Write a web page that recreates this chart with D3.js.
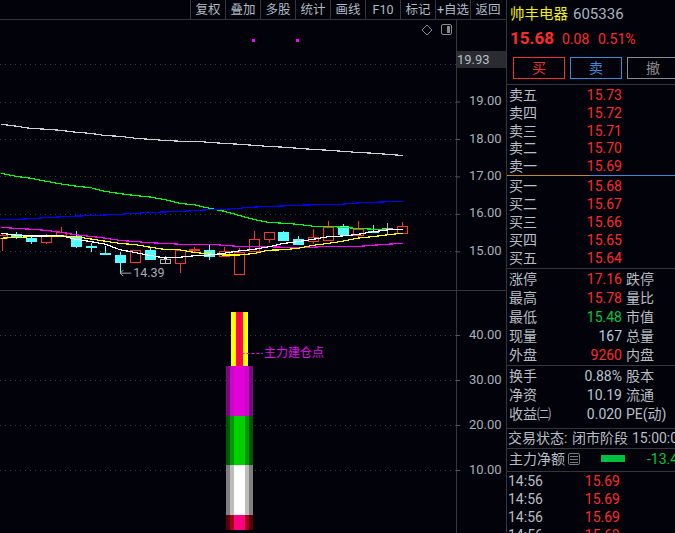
<!DOCTYPE html>
<html>
<head>
<meta charset="utf-8">
<script src="https://cdn.jsdelivr.net/npm/d3@7"></script>
<style>
html, body { margin: 0; padding: 0; background: #02020a; overflow: hidden; }
svg { display: block; }
text { font-family: Roboto, "Noto Sans CJK SC", sans-serif; }
</style>
</head>
<body>
<script>
// candle values, oldest first
var opens = [15.37,15.45,15.36,15.26,15.44,15.41,15.14,14.95,14.90,14.71,15.03,14.79,14.68,15.03,15.03,14.86,14.40,14.99,15.31,15.51,15.32,15.26,15.31,15.67,15.44,15.55,15.62,15.50];
var closes = [15.44,15.36,15.28,15.41,15.51,15.15,15.10,14.91,14.72,15.03,14.78,14.68,15.04,15.05,14.86,15.00,14.99,15.32,15.51,15.30,15.19,15.37,15.66,15.46,15.60,15.52,15.59,15.68];
var highs = [15.49,15.52,15.44,15.46,15.64,15.54,15.23,15.14,14.99,15.03,15.11,14.87,15.04,15.12,15.17,15.11,15.09,15.54,15.51,15.54,15.41,15.60,15.80,15.73,15.81,15.70,15.76,15.78];
var lows = [15.01,15.33,15.19,15.19,15.41,15.10,14.99,14.91,14.39,14.71,14.78,14.65,14.43,14.95,14.78,14.84,14.40,14.99,15.21,15.28,15.17,15.19,15.31,15.46,15.39,15.48,15.45,15.48];
var greyCandles = [11, 26];

// moving averages
var maWhite = [15.48,15.43,15.41,15.41,15.42,15.32,15.26,15.19,15.04,14.97,14.89,14.82,14.84,14.88,14.90,14.95,15.01,15.05,15.12,15.21,15.26,15.32,15.39,15.41,15.45,15.52,15.57,15.59];
var maYellow = [15.35,15.37,15.39,15.41,15.41,15.39,15.33,15.27,15.21,15.18,15.11,15.05,15.04,14.97,14.93,14.90,14.90,14.94,15.03,15.04,15.08,15.16,15.21,15.27,15.35,15.39,15.44,15.48];
var maMagenta = [15.64,15.61,15.59,15.56,15.51,15.44,15.40,15.35,15.29,15.26,15.23,15.21,15.19,15.19,15.19,15.16,15.13,15.12,15.12,15.11,15.11,15.11,15.13,15.13,15.13,15.16,15.19,15.21];
var maBlue = [15.84,15.85,15.87,15.90,15.92,15.94,15.95,15.97,15.99,16.01,16.04,16.05,16.06,16.09,16.11,16.12,16.15,16.18,16.20,16.21,16.23,16.24,16.25,16.26,16.29,16.31,16.32,16.33];
var maGreen = [17.08,17.00,16.95,16.87,16.80,16.74,16.70,16.60,16.54,16.49,16.45,16.38,16.28,16.24,16.15,16.07,15.96,15.85,15.77,15.75,15.72,15.67,15.67,15.64,15.61,15.59,15.59,15.59];
var maGrey = [18.39,18.34,18.28,18.26,18.23,18.18,18.15,18.09,18.07,18.02,17.99,17.96,17.94,17.94,17.91,17.88,17.86,17.83,17.80,17.78,17.75,17.72,17.70,17.67,17.64,17.62,17.59,17.56];

// signal dots above the candles
var signalIndex = [17, 20];
var signalPrice = [20.63, 20.63];

// lower panel column
var columnIndex = 16;
var columnEdges = [-3.3, 0, 11.1, 22, 33.1, 45.1];

// axes
var priceTicks = [15, 16, 17, 18, 19];
var priceGrid = [15, 16, 17, 18, 19, 20];
var volTicks = [10, 20, 30, 40];

// toolbar
var toolLabels = ["复权","叠加","多股","统计","画线","F10","标记","+自选","返回"];

// order book
var askLabels = ["卖五","卖四","卖三","卖二","卖一"];
var askPrices = ["15.73","15.72","15.71","15.70","15.69"];
var bidLabels = ["买一","买二","买三","买四","买五"];
var bidPrices = ["15.68","15.67","15.66","15.65","15.64"];

// stats
var statLeft = ["涨停","最高","最低","现量","外盘"];
var statValue = ["17.16","15.78","15.48","167","9260"];
var statRight = ["跌停","量比","市值","总量","内盘"];
var infoLeft = ["换手","净资","收益㈡"];
var infoValue = ["0.88%","10.19","0.020"];
var infoRight = ["股本","流通","PE(动)"];

// tick list
var tradeTimes = ["14:56","14:56","14:56","14:56"];
var tradePrices = ["15.69","15.69","15.69","15.69"];

var width = 675;
var height = 533;
var bg = "#02020a";
var lineColor = "#34363a";
var red = "#ff2b2b";
var labelColor = "#b8bec4";

var svg = d3.select("body").append("svg")
  .attr("width", width)
  .attr("height", height);

svg.append("rect").attr("width", width).attr("height", height).attr("fill", bg);

// Scales
var xScale = d3.scaleLinear().domain([0, 27]).range([1.5, 402.18]);
var yPrice = d3.scaleLinear().domain([15, 19]).range([251.3, 101.5]);
var yVol = d3.scaleLinear().domain([0, 40]).range([515, 335]);

var chart = svg.append("g");

// Dotted grid
chart.selectAll(".price-grid").data(priceGrid).enter().append("line")
  .attr("x1", 0).attr("x2", 456)
  .attr("y1", function(d) { return Math.round(yPrice(d)) + 0.5; })
  .attr("y2", function(d) { return Math.round(yPrice(d)) + 0.5; })
  .attr("stroke", "#3a3a40").attr("stroke-dasharray", "1,4");

chart.selectAll(".vol-grid").data(volTicks).enter().append("line")
  .attr("x1", 0).attr("x2", 456)
  .attr("y1", function(d) { return Math.round(yVol(d)) + 0.5; })
  .attr("y2", function(d) { return Math.round(yVol(d)) + 0.5; })
  .attr("stroke", "#3a3a40").attr("stroke-dasharray", "1,4");

// Candles
var candleData = opens.map(function(o, i) {
  return { i: i, open: o, close: closes[i], high: highs[i], low: lows[i] };
});

function candleColor(d) {
  if (greyCandles.indexOf(d.i) >= 0) return "#b4b4b4";
  return d.close > d.open ? "#ff3232" : "#54ffff";
}

var candles = chart.selectAll(".candle").data(candleData).enter().append("g")
  .attr("shape-rendering", "crispEdges");

candles.append("line")
  .attr("x1", function(d) { return Math.round(xScale(d.i)) + 0.5; })
  .attr("x2", function(d) { return Math.round(xScale(d.i)) + 0.5; })
  .attr("y1", function(d) { return yPrice(d.high); })
  .attr("y2", function(d) { return yPrice(d.low); })
  .attr("stroke", candleColor);

candles.append("rect")
  .attr("x", function(d) { return Math.round(xScale(d.i)) - 5 + 0.5; })
  .attr("width", 10)
  .attr("y", function(d) { return Math.round(yPrice(Math.max(d.open, d.close))) + 0.5; })
  .attr("height", function(d) { return Math.max(1, Math.round(Math.abs(yPrice(d.open) - yPrice(d.close)))); })
  .attr("fill", function(d) {
    if (greyCandles.indexOf(d.i) >= 0) return "none";
    return d.close > d.open ? bg : "#54ffff";
  })
  .attr("stroke", candleColor);

// Moving averages
var maLine = d3.line()
  .x(function(d, i) { return xScale(i); })
  .y(function(d) { return yPrice(d); });

[[maGreen, "#00ff00"], [maGrey, "#d0d0d0"], [maBlue, "#0000ff"], [maMagenta, "#ff00ff"], [maYellow, "#ffff00"], [maWhite, "#ffffff"]]
  .forEach(function(m) {
    chart.append("path")
      .attr("d", maLine(m[0]))
      .attr("fill", "none")
      .attr("stroke", m[1])
      .attr("stroke-width", 1.2)
      .attr("stroke-linecap", "square")
      .attr("shape-rendering", "crispEdges");
  });

// Signal dots
chart.selectAll(".signal").data(signalIndex).enter().append("rect")
  .attr("x", function(d) { return Math.round(xScale(d)) - 2; })
  .attr("y", function(d, i) { return Math.round(yPrice(signalPrice[i])) - 1; })
  .attr("width", 3).attr("height", 3)
  .attr("shape-rendering", "crispEdges")
  .attr("fill", "#ff00ff");

// Low marker
var lowX = xScale(8);
var lowY = yPrice(lows[8]) - 1;
chart.append("path")
  .attr("d", "M" + (lowX + 11) + "," + lowY + "H" + lowX + "m3,-3l-3,3l3,3")
  .attr("fill", "none").attr("stroke", "#a8a8a8");
chart.append("text")
  .attr("x", lowX + 13).attr("y", lowY + 4)
  .attr("font-size", 12.5).attr("fill", "#a8b0b8")
  .text(d3.format(".2f")(lows[8]));

// Lower panel column, dark edges stepping to a bright middle
var segColors = [
  ["#5c0008", "#a00018", "#ff0080"],
  ["#808080", "#bcbcbc", "#ffffff"],
  ["#005800", "#009800", "#00d000"],
  ["#7a0a7a", "#c808c8", "#e400d8"],
  null
];
var segWidths = [27, 19, 11];
var cx = Math.round(xScale(columnIndex)) + 0.5;

var column = chart.append("g").attr("shape-rendering", "crispEdges");
segColors.forEach(function(colors, s) {
  var y0 = yVol(columnEdges[s + 1]);
  var h = yVol(columnEdges[s]) - y0;
  var widths = colors ? segWidths : [17, 7, 3];
  var fills = colors || ["#ffff00", "#ff1030", "#ff0060"];
  widths.forEach(function(w, k) {
    column.append("rect")
      .attr("x", cx - w / 2).attr("width", w)
      .attr("y", y0).attr("height", h)
      .attr("fill", fills[k]);
  });
});

chart.append("line")
  .attr("x1", cx + 2).attr("x2", 263)
  .attr("y1", 353.5).attr("y2", 353.5)
  .attr("stroke", "#e010e0").attr("stroke-dasharray", "3,2");
chart.append("text")
  .attr("x", 264).attr("y", 357)
  .attr("font-size", 12).attr("fill", "#e010e8")
  .text("主力建仓点");

// Panel borders
function hline(x1, x2, y, color) {
  svg.append("line").attr("x1", x1).attr("x2", x2).attr("y1", y).attr("y2", y)
    .attr("stroke", color || lineColor).attr("shape-rendering", "crispEdges");
}
function vline(x, y1, y2) {
  svg.append("line").attr("x1", x).attr("x2", x).attr("y1", y1).attr("y2", y2)
    .attr("stroke", lineColor).attr("shape-rendering", "crispEdges");
}
hline(0, 506, 19.5);
hline(0, 506, 290.5);
vline(456.5, 19, 533);
vline(506.5, 0, 533);

// Axes
var priceAxis = d3.axisRight(yPrice).tickValues(priceTicks).tickFormat(d3.format(".2f")).tickSize(4).tickPadding(9);
var volAxis = d3.axisRight(yVol).tickValues(volTicks).tickFormat(d3.format(".2f")).tickSize(4).tickPadding(9);

[priceAxis, volAxis].forEach(function(a) {
  var g = svg.append("g").attr("transform", "translate(456,0)").call(a);
  g.select(".domain").remove();
  g.selectAll("line").attr("stroke", "#55585c");
  g.selectAll("text").attr("font-size", 13).attr("fill", "#a8b0b8").attr("dy", "0.24em")
    .style("font-family", "Roboto, sans-serif");
});

// Current high label
svg.append("rect").attr("x", 457).attr("y", 51).attr("width", 49).attr("height", 17).attr("fill", "#2a2c30");
svg.append("text").attr("x", 457).attr("y", 64).attr("font-size", 13).attr("fill", "#b8bec4").text("19.93");

// Small icons
svg.append("path").attr("d", "M427,25l5,5l-5,5l-5,-5z").attr("fill", "none").attr("stroke", "#8a8a8a");
svg.append("rect").attr("x", 441.5).attr("y", 24.5).attr("width", 10).attr("height", 10).attr("rx", 1.5)
  .attr("fill", "none").attr("stroke", "#8a8a8a");
svg.append("rect").attr("x", 447).attr("y", 26).attr("width", 3).attr("height", 7).attr("fill", "#8a8a8a");

// Toolbar
var toolX = 190.5;
var toolW = 35;
toolLabels.forEach(function(t, i) {
  vline(toolX + i * toolW, 0, 19);
  svg.append("text")
    .attr("x", toolX + i * toolW + toolW / 2).attr("y", 14)
    .attr("text-anchor", "middle")
    .attr("font-size", 12.5).attr("fill", "#b0bac2")
    .text(t);
});

// Right panel: header
var px = 509;
svg.append("text").attr("x", px + 1).attr("y", 19).attr("font-size", 14.5).attr("fill", "#f4f000").text("帅丰电器");
svg.append("text").attr("x", 573).attr("y", 19).attr("font-size", 15).attr("fill", "#a8b4c0").text("605336");
svg.append("text").attr("x", 510).attr("y", 44).attr("font-size", 17).attr("font-weight", "bold").attr("fill", red).text("15.68");
svg.append("text").attr("x", 562).attr("y", 44).attr("font-size", 14).attr("fill", red).text("0.08");
svg.append("text").attr("x", 598).attr("y", 44).attr("font-size", 14).attr("fill", red).text("0.51%");

// Buy, sell, cancel buttons
[["买", 513, "#f03030"], ["卖", 570, "#3a8ad8"], ["撤", 627, "#8c8c8c"]].forEach(function(b) {
  svg.append("rect").attr("x", b[1] + 0.5).attr("y", 57.5).attr("width", 51).attr("height", 21)
    .attr("fill", "none").attr("stroke", b[2]);
  svg.append("text").attr("x", b[1] + 26).attr("y", 73).attr("text-anchor", "middle")
    .attr("font-size", 14).attr("fill", b[2]).text(b[0]);
});

hline(507, 675, 84.5);

function row(label, value, y, color, right) {
  svg.append("text").attr("x", px).attr("y", y + 5).attr("font-size", 14).attr("fill", labelColor).text(label);
  svg.append("text").attr("x", 622).attr("y", y + 5).attr("text-anchor", "end")
    .attr("font-size", 14).attr("fill", color).text(value);
  if (right) {
    svg.append("text").attr("x", 626).attr("y", y + 5).attr("font-size", 14).attr("fill", labelColor).text(right);
  }
}

// Order book
var askScale = d3.scalePoint().domain(askLabels).range([95, 166]);
askLabels.forEach(function(l, i) { row(l, askPrices[i], askScale(l), red); });

hline(507, 590, 175.5, "#c08a30");
hline(590, 675, 175.5, "#3a8ad8");

var bidScale = d3.scalePoint().domain(bidLabels).range([185.7, 257.7]);
bidLabels.forEach(function(l, i) { row(l, bidPrices[i], bidScale(l), red); });

hline(507, 675, 268.5);

// Stats
var statColors = [red, red, "#00c83c", "#b4cce0", red];
var statScale = d3.scalePoint().domain(statLeft).range([279, 354.5]);
statLeft.forEach(function(l, i) { row(l, statValue[i], statScale(l), statColors[i], statRight[i]); });

hline(507, 675, 365.5);

var infoScale = d3.scalePoint().domain(infoLeft).range([376, 414]);
infoLeft.forEach(function(l, i) { row(l, infoValue[i], infoScale(l), "#b8c4d0", infoRight[i]); });

hline(507, 675, 428.5);
[["交易状态:", 508], ["闭市阶段", 572], ["15:00:00", 632]].forEach(function(t) {
  svg.append("text").attr("x", t[1]).attr("y", 443).attr("font-size", 14).attr("fill", labelColor).text(t[0]);
});
hline(507, 675, 448.5);

// Main force net amount
svg.append("text").attr("x", px).attr("y", 464).attr("font-size", 14).attr("fill", labelColor).text("主力净额");
svg.append("rect").attr("x", 568.5).attr("y", 453.5).attr("width", 11).attr("height", 11).attr("rx", 1.5)
  .attr("fill", "none").attr("stroke", "#7a7a7a");
[456.5, 459.5, 462].forEach(function(y) { hline(570, 578, y, "#7a7a7a"); });
svg.append("rect").attr("x", 601).attr("y", 455).attr("width", 24).attr("height", 7).attr("fill", "#00c040");
svg.append("text").attr("x", 647).attr("y", 464).attr("font-size", 14).attr("fill", "#00c83c").text("-13.45");
hline(507, 675, 471.5);

// Tick list
var tradeScale = d3.scalePoint().domain(d3.range(tradeTimes.length)).range([481, 535]);
tradeTimes.forEach(function(t, i) {
  svg.append("text").attr("x", px - 1).attr("y", tradeScale(i) + 5).attr("font-size", 14).attr("fill", labelColor).text(t);
  svg.append("text").attr("x", 620).attr("y", tradeScale(i) + 5).attr("text-anchor", "end")
    .attr("font-size", 14).attr("fill", red).text(tradePrices[i]);
});
</script>
</body>
</html>
